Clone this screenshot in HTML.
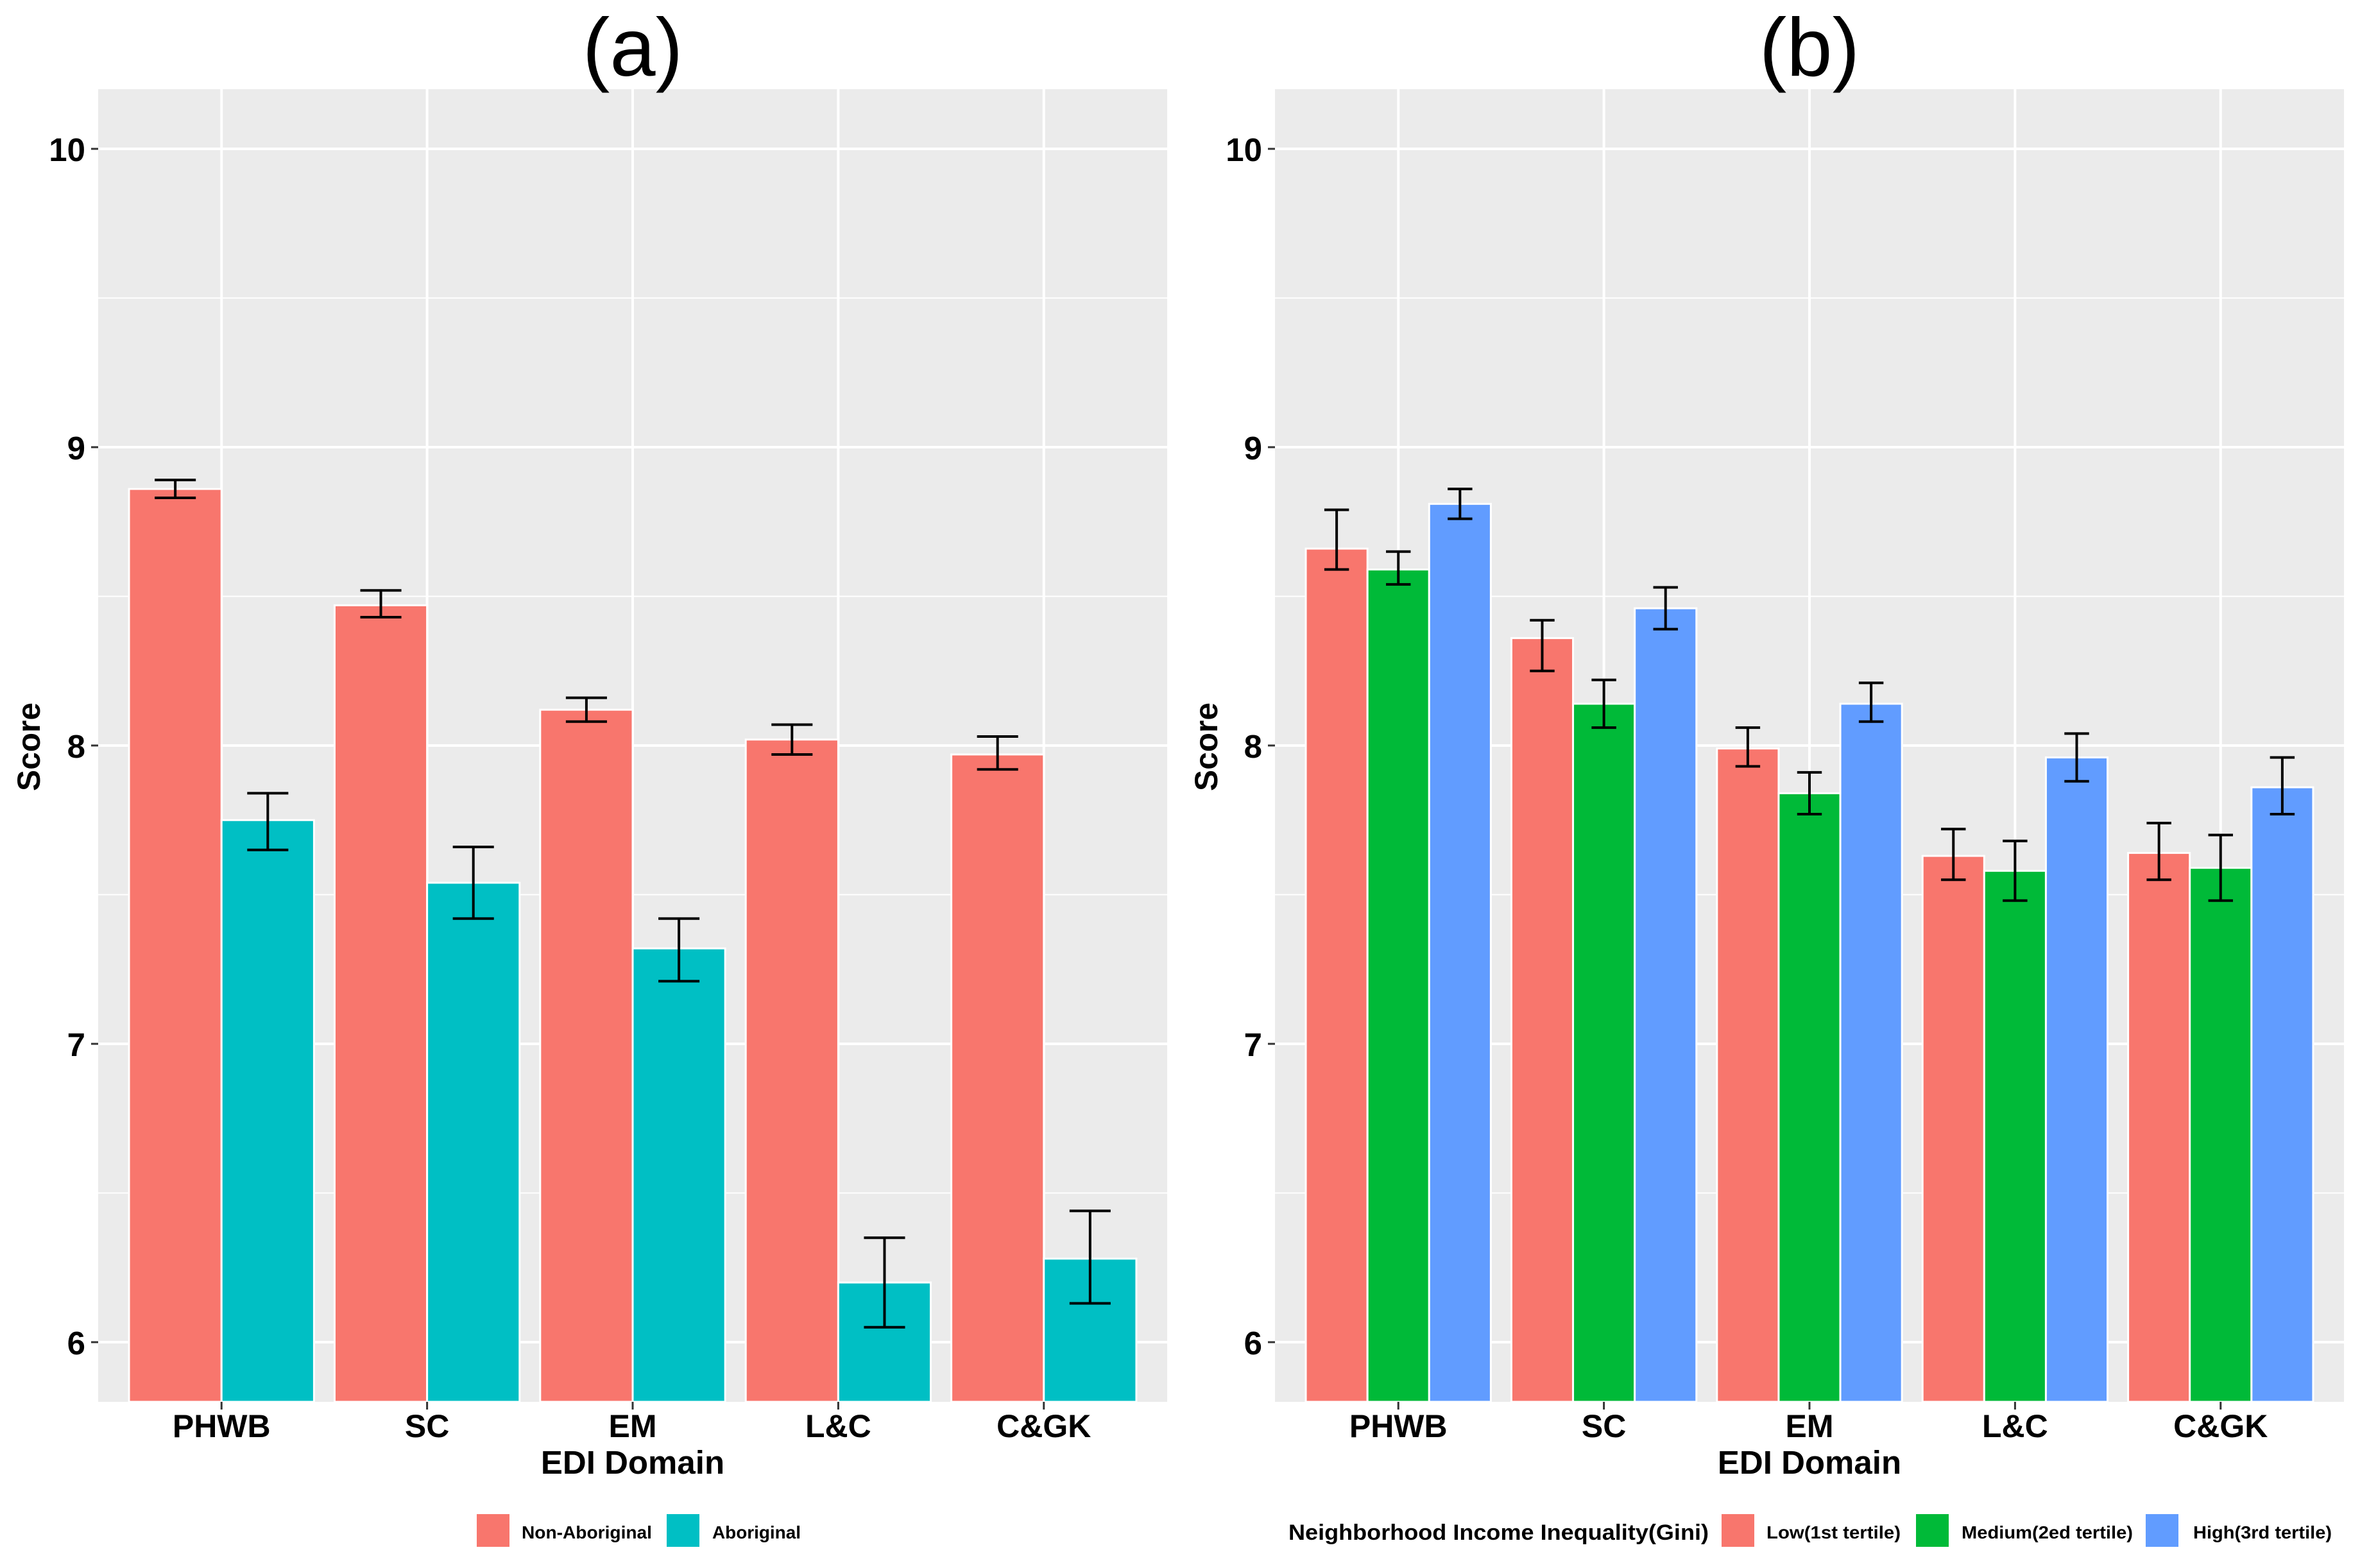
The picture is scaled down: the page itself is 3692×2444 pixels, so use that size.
<!DOCTYPE html>
<html><head><meta charset="utf-8"><style>
html,body{margin:0;padding:0;background:#fff;}
svg{display:block;font-family:"Liberation Sans",Arial,sans-serif;}
</style></head><body>
<svg id="chart" width="3692" height="2444" viewBox="0 0 3692 2444" xmlns="http://www.w3.org/2000/svg">
<g id="pa"></g>
<g id="pb"></g>
</svg>
<script>
const categories = ["PHWB","SC","EM","L&C","C&GK"];
// Panel (a)
const seriesA = ["Non-Aboriginal","Aboriginal"];
const nonAborig = [8.86, 8.47, 8.12, 8.02, 7.97];
const nonAborigLo = [8.83, 8.43, 8.08, 7.97, 7.92];
const nonAborigHi = [8.89, 8.52, 8.16, 8.07, 8.03];
const aborig = [7.75, 7.54, 7.32, 6.20, 6.28];
const aborigLo = [7.65, 7.42, 7.21, 6.05, 6.13];
const aborigHi = [7.84, 7.66, 7.42, 6.35, 6.44];
// Panel (b)
const seriesB = ["Low(1st tertile)","Medium(2ed tertile)","High(3rd tertile)"];
const low = [8.66, 8.36, 7.99, 7.63, 7.64];
const lowLo = [8.59, 8.25, 7.93, 7.55, 7.55];
const lowHi = [8.79, 8.42, 8.06, 7.72, 7.74];
const med = [8.59, 8.14, 7.84, 7.58, 7.59];
const medLo = [8.54, 8.06, 7.77, 7.48, 7.48];
const medHi = [8.65, 8.22, 7.91, 7.68, 7.70];
const high = [8.81, 8.46, 8.14, 7.96, 7.86];
const highLo = [8.76, 8.39, 8.08, 7.88, 7.77];
const highHi = [8.86, 8.53, 8.21, 8.04, 7.96];
const yTicks = [6, 7, 8, 9, 10];
const yMinor = [6.5, 7.5, 8.5, 9.5];

const NS = "http://www.w3.org/2000/svg";
function mk(parent, tag, attrs, text){
  const e = document.createElementNS(NS, tag);
  for (const k in attrs) e.setAttribute(k, attrs[k]);
  if (text !== undefined) e.textContent = text;
  parent.appendChild(e);
  return e;
}
const TOP = 139, BOT = 2185, YMIN = 5.8, YMAX = 10.2;
function yScale(v){ return BOT - (v - YMIN) / (YMAX - YMIN) * (BOT - TOP); }

function drawPanel(g, left, right, title, groups, colors, cols, los, his, capFrac){
  const step = (right - left) / 5.2;
  const xScale = i => left + (i + 0.6) * step;
  const r = mk(g, 'rect', {x:left, y:TOP, width:right-left, height:BOT-TOP, fill:'#EBEBEB'});
  
  
  yMinor.forEach(v => {
    const l = mk(g, 'line', {x1:left, x2:right, y1:yScale(v), y2:yScale(v), stroke:'#fff', 'stroke-width':2});
    
    
  });
  yTicks.forEach(v => {
    const l = mk(g, 'line', {x1:left, x2:right, y1:yScale(v), y2:yScale(v), stroke:'#fff', 'stroke-width':4});
    
    
    const t = mk(g, 'line', {x1:left-11, x2:left, y1:yScale(v), y2:yScale(v), stroke:'#333', 'stroke-width':3});
    
    
    const tx = mk(g, 'text', {x:left-20, y:yScale(v)+19, 'text-anchor':'end', 'font-size':51, 'font-weight':'bold'}, String(v));
    
    
  });
  categories.forEach((c, i) => {
    const l = mk(g, 'line', {x1:xScale(i), x2:xScale(i), y1:TOP, y2:BOT, stroke:'#fff', 'stroke-width':4});
    
    
  });
  const n = groups.length;
  const bw = 0.9 / n;
  categories.forEach((c, i) => {
    for (let s = 0; s < n; s++){
      const cx = xScale(i) + (-0.45 + bw*(s+0.5)) * step;
      const v = cols[s][i];
      const b = mk(g, 'rect', {x:cx - bw*step/2, y:yScale(v), width:bw*step, height:BOT-yScale(v), fill:colors[s], stroke:'#fff', 'stroke-width':3});
      
      
    }
  });
  categories.forEach((c, i) => {
    for (let s = 0; s < n; s++){
      const cx = xScale(i) + (-0.45 + bw*(s+0.5)) * step;
      const lo = yScale(los[s][i]), hi = yScale(his[s][i]);
      const hw = capFrac * step / 2;
      const eg = mk(g, 'g', {stroke:'#000', 'stroke-width':4});
      
      
      mk(eg, 'line', {x1:cx, x2:cx, y1:lo, y2:hi});
      mk(eg, 'line', {x1:cx-hw, x2:cx+hw, y1:lo, y2:lo});
      mk(eg, 'line', {x1:cx-hw, x2:cx+hw, y1:hi, y2:hi});
    }
    const t = mk(g, 'line', {x1:xScale(i), x2:xScale(i), y1:BOT, y2:BOT+12, stroke:'#333', 'stroke-width':3});
    
    
    const tx = mk(g, 'text', {x:xScale(i), y:2240, 'text-anchor':'middle', 'font-size':50, 'font-weight':'bold'}, c);
    
    
  });
  const cx = (left + right) / 2;
  const xt = mk(g, 'text', {x:cx, y:2297, 'text-anchor':'middle', 'font-size':51, 'font-weight':'bold'}, 'EDI Domain');
  
  
  const ttl = mk(g, 'text', {x:cx, y:118, 'text-anchor':'middle', 'font-size':128}, title);
  
  
}

const pa = document.getElementById('pa');
const pb = document.getElementById('pb');
const cA = ['#F8766D', '#00BFC4'];
const cB = ['#F8766D', '#00BA38', '#619CFF'];
drawPanel(pa, 153, 1819, '(a)', seriesA, cA, [nonAborig, aborig], [nonAborigLo, aborigLo], [nonAborigHi, aborigHi], 0.2);
drawPanel(pb, 1987, 3653, '(b)', seriesB, cB, [low, med, high], [lowLo, medLo, highLo], [lowHi, medHi, highHi], 0.12);

// y-axis titles
[[62, 'y-axis-title-a', pa], [1897, 'y-axis-title-b', pb]].forEach(([x, nm, g]) => {
  const t = mk(g, 'text', {x:x, y:1164, transform:'rotate(-90 ' + x + ' 1164)', 'text-anchor':'middle', 'font-size':50, 'font-weight':'bold', textLength:138, lengthAdjust:'spacingAndGlyphs'}, 'Score');
  
  
});

// legends
const la = mk(pa, 'g', {});


const legA = [[743, 813, 203], [1039, 1110, 138]];
seriesA.forEach((s, i) => {
  const e = mk(la, 'g', {});
  
  
  mk(e, 'rect', {x:legA[i][0], y:2360, width:51, height:51, fill:cA[i]});
  mk(e, 'text', {x:legA[i][1], y:2398, 'font-size':28, 'font-weight':'bold', textLength:legA[i][2], lengthAdjust:'spacingAndGlyphs'}, s);
});
const lb = mk(pb, 'g', {});


const lt = mk(lb, 'text', {x:2008, y:2400, 'font-size':34, 'font-weight':'bold', textLength:655, lengthAdjust:'spacingAndGlyphs'}, 'Neighborhood Income Inequality(Gini)');


const legB = [[2683, 2753, 209], [2986, 3057, 267], [3344, 3418, 216]];
seriesB.forEach((s, i) => {
  const e = mk(lb, 'g', {});
  
  
  mk(e, 'rect', {x:legB[i][0], y:2360, width:51, height:51, fill:cB[i]});
  mk(e, 'text', {x:legB[i][1], y:2398, 'font-size':28, 'font-weight':'bold', textLength:legB[i][2], lengthAdjust:'spacingAndGlyphs'}, s);
});
</script>
</body></html>
